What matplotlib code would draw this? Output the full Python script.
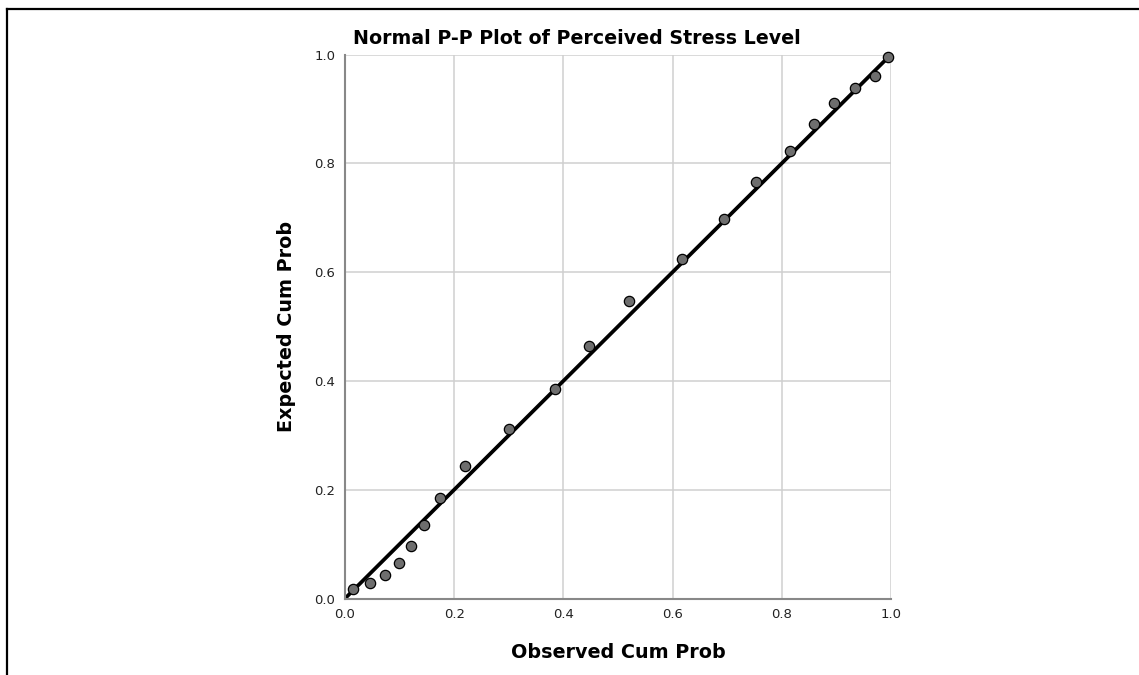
import matplotlib.pyplot as plt
from matplotlib.lines import Line2D

# Observed vs expected cumulative probabilities
observed = [0.015, 0.046, 0.073, 0.099, 0.121, 0.145, 0.174, 0.219, 0.300, 0.385,
            0.446, 0.521, 0.618, 0.695, 0.753, 0.815, 0.859, 0.895, 0.934, 0.971, 0.994]
expected = [0.017, 0.028, 0.043, 0.066, 0.097, 0.135, 0.185, 0.243, 0.312, 0.385,
            0.465, 0.546, 0.624, 0.698, 0.766, 0.823, 0.872, 0.910, 0.938, 0.960, 0.996]
ticks = [0.0, 0.2, 0.4, 0.6, 0.8, 1.0]
tick_labels = ['0.0', '0.2', '0.4', '0.6', '0.8', '1.0']

fig = plt.figure(figsize=(11.39, 6.75), dpi=100)
ax = fig.add_axes([345 / 1139, 76.5 / 675, 546 / 1139, 544 / 675])

# Grid and axes styling
ax.set_xlim(0, 1)
ax.set_ylim(0, 1)
ax.set_xticks(ticks)
ax.set_yticks(ticks)
ax.set_xticklabels(tick_labels)
ax.set_yticklabels(tick_labels)
ax.grid(True, color='#cfcfcf', linewidth=1.1)
ax.set_axisbelow(True)
ax.tick_params(length=0, labelsize=9.5, colors='#222222', pad=7)
for side in ['top', 'right']:
    ax.spines[side].set_visible(False)
for side in ['left', 'bottom']:
    ax.spines[side].set_color('#888888')
    ax.spines[side].set_linewidth(1.5)

# Reference line and points
ax.plot([0, 1], [0, 1], color='black', linewidth=2.7, zorder=2)
ax.scatter(observed, expected, s=55, color='#6e6e6e', edgecolor='black',
           linewidth=0.9, zorder=3, clip_on=False)

# Labels and title
ax.set_xlabel('Observed Cum Prob', fontsize=13.8, fontweight='bold', labelpad=16)
ax.set_ylabel('Expected Cum Prob', fontsize=13.8, fontweight='bold', labelpad=13)
fig.text(577 / 1139, 1 - 38 / 675, 'Normal P-P Plot of Perceived Stress Level',
         ha='center', va='center', fontsize=13.7, fontweight='bold')

# Outer frame (top and left only)
fig.add_artist(Line2D([7 / 1139, 1], [1 - 9 / 675, 1 - 9 / 675], color='black', linewidth=1.6))
fig.add_artist(Line2D([7 / 1139, 7 / 1139], [0, 1 - 9 / 675], color='black', linewidth=1.6))

plt.savefig('out.png', dpi=100)
